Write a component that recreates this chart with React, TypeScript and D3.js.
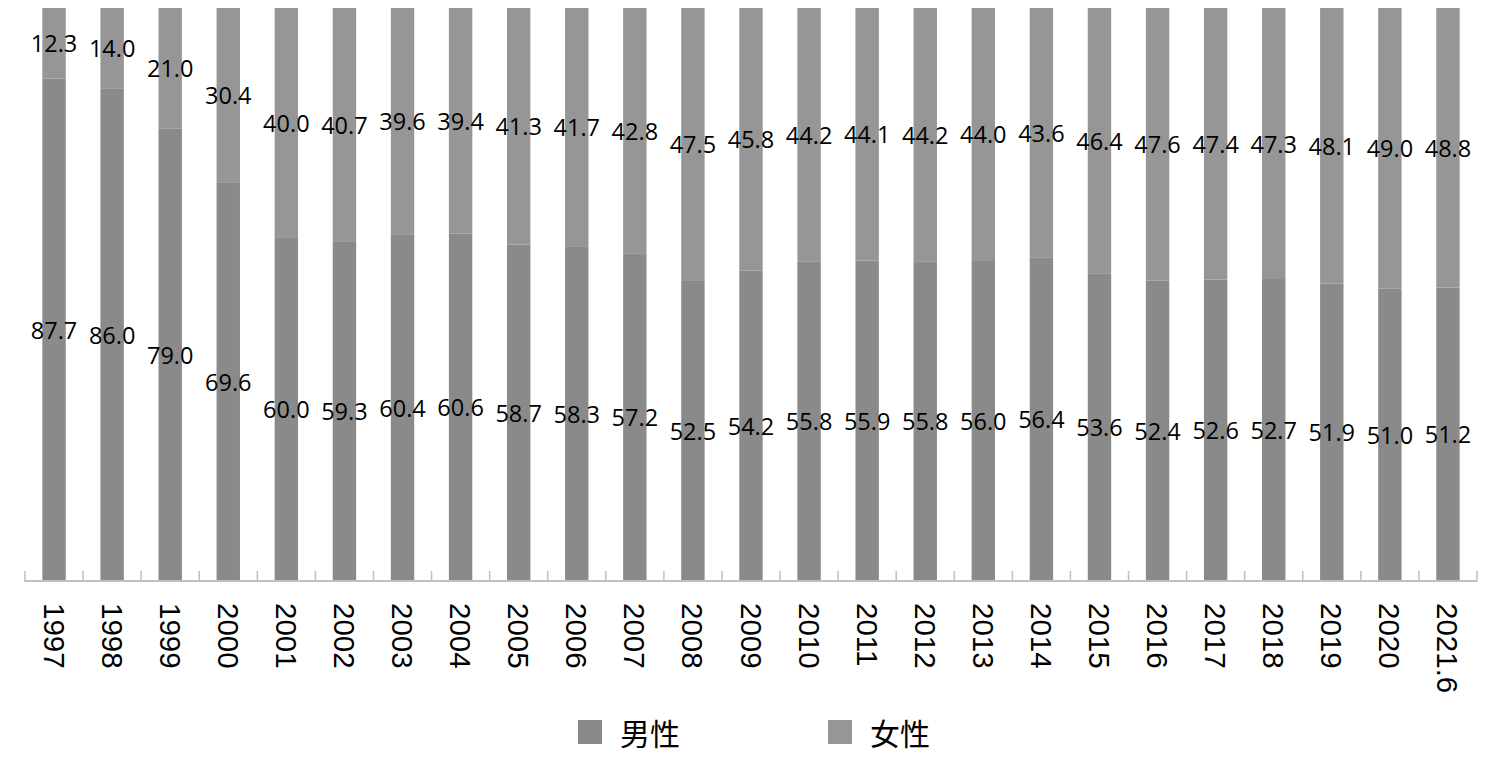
import React from "react";
import * as d3 from "d3";

const categories = ["1997","1998","1999","2000","2001","2002","2003","2004","2005","2006","2007","2008","2009","2010","2011","2012","2013","2014","2015","2016","2017","2018","2019","2020","2021.6"];
const male = [87.7,86.0,79.0,69.6,60.0,59.3,60.4,60.6,58.7,58.3,57.2,52.5,54.2,55.8,55.9,55.8,56.0,56.4,53.6,52.4,52.6,52.7,51.9,51.0,51.2];
const female = [12.3,14.0,21.0,30.4,40.0,40.7,39.6,39.4,41.3,41.7,42.8,47.5,45.8,44.2,44.1,44.2,44.0,43.6,46.4,47.6,47.4,47.3,48.1,49.0,48.8];
const seriesNames = ["男性", "女性"];

const W = 1502, H = 762;
const MALE_C = "#8a8a8a";
const FEMALE_C = "#969696";

export default function App() {
  const x = d3.scaleBand<string>().domain(categories).range([25, 1477]).padding(0);
  const y = d3.scaleLinear().domain([0, 100]).range([581, 8]);
  const bw = 23.4;
  const labelFont = "'Open Sans', 'Noto Sans', sans-serif";
  return (
    <svg width={W} height={H} style={{ position: "absolute", left: 0, top: 0, background: "#fff" }}>
      {categories.map((c, i) => {
        const cx = (x(c) as number) + x.bandwidth() / 2;
        const m = male[i], f = female[i];
        return (
          <g key={c}>
            <rect x={cx - bw / 2} y={y(m)} width={bw} height={y(0) - y(m)} fill={MALE_C} />
            <rect x={cx - bw / 2} y={y(m + f)} width={bw} height={y(m) - y(m + f)} fill={FEMALE_C} />
            <text x={cx} y={(y(0) + y(m)) / 2} textAnchor="middle" dominantBaseline="central" fontSize={23.5} fontFamily={labelFont} fill="#000">{m.toFixed(1)}</text>
            <text x={cx} y={(y(m) + y(m + f)) / 2} textAnchor="middle" dominantBaseline="central" fontSize={23.5} fontFamily={labelFont} fill="#000">{f.toFixed(1)}</text>
            <text transform={`translate(${cx},603) rotate(90)`} textAnchor="start" dominantBaseline="central" fontSize={29.5} fontFamily="'Liberation Sans', Arial, sans-serif" fill="#000">{c}</text>
          </g>
        );
      })}
      <line x1={25} x2={1477} y1={581} y2={581} stroke="#bfbfbf" strokeWidth={2} />
      {d3.range(categories.length + 1).map((i) => {
        const tx = 25 + i * x.step();
        return <line key={i} x1={tx} x2={tx} y1={571} y2={582} stroke="#bfbfbf" strokeWidth={1.5} />;
      })}
      {seriesNames.map((s, i) => (
        <g key={s} transform={`translate(${578 + i * 250},720)`}>
          <rect x={0} y={0} width={24} height={24} fill={i === 0 ? MALE_C : FEMALE_C} />
          <text x={42} y={12} dominantBaseline="central" fontSize={30} fontFamily="'Noto Sans CJK SC', sans-serif" fill="#000">{s}</text>
        </g>
      ))}
    </svg>
  );
}
